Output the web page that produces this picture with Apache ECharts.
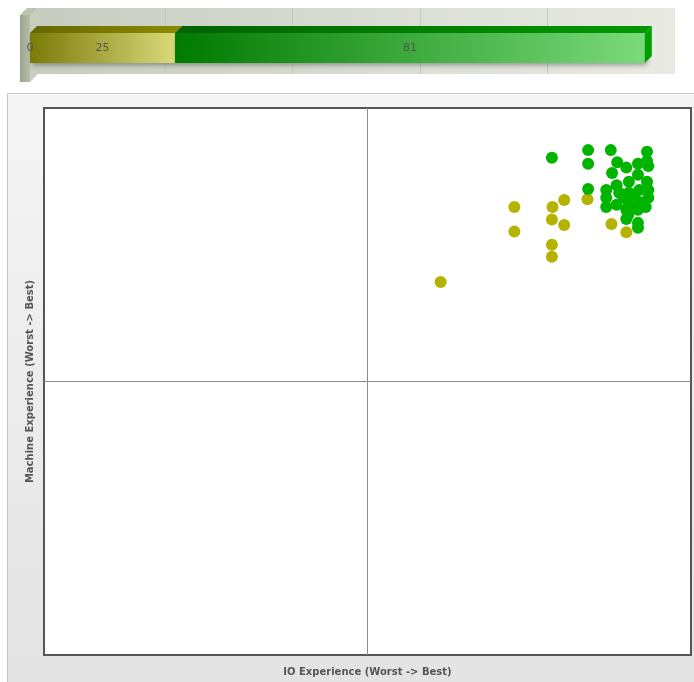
<!DOCTYPE html>
<html>
<head>
<meta charset="utf-8">
<script src="https://cdn.jsdelivr.net/npm/echarts@6/dist/echarts.min.js"></script>
<style>
html,body{margin:0;padding:0;background:#fff;}
#c{width:694px;height:682px;}
</style>
</head>
<body>
<div id="c"></div>
<script>
// ---- data ----
const barSegmentValues = [25, 81];
const barSegmentNames = ['Yellow', 'Green'];
const barGridTicks = [22, 44, 66, 88];
const barAxisMax = 110;

const yellowX = [61.3, 72.7, 72.7, 78.6, 78.5, 78.5, 78.5, 80.4, 80.4, 84.0, 87.7, 90.0];
const yellowY = [68.2, 81.9, 77.4, 81.9, 79.6, 75.0, 72.8, 83.2, 78.6, 83.3, 78.8, 77.3];

const greenX = [78.5, 84.1, 87.6, 84.1, 84.1, 93.2, 88.6, 90.0, 91.8, 93.2, 93.4, 87.8, 91.8, 90.4, 93.2, 86.9, 88.5, 86.9, 86.9, 88.9, 90.4, 92.0, 93.4, 93.4, 93.0, 92.0, 90.4, 90.0, 90.3, 91.8, 89.6, 91.2, 91.8, 91.8, 88.5, 90.0];
const greenY = [90.9, 92.3, 92.3, 89.8, 85.2, 92.0, 90.1, 89.1, 89.8, 90.3, 89.4, 88.1, 87.8, 86.5, 86.5, 85.0, 85.9, 83.6, 81.9, 84.5, 84.5, 85.0, 85.0, 83.6, 81.9, 82.8, 82.3, 81.4, 80.5, 81.4, 83.6, 84.1, 79.0, 78.1, 82.3, 79.7];

const xAxisName = 'IO Experience (Worst -> Best)';
const yAxisName = 'Machine Experience (Worst -> Best)';
const midValue = 50;

// ---- build ----
const D = 7; // 3D depth
const segData = [];
let acc = 0;
barSegmentValues.forEach((v, i) => { segData.push([acc, acc + v, v, i]); acc += v; });

const segStyles = [
  { front: ['#7a7a08', '#d9d97a'], top: ['#666600', '#8c8c00'], side: '#a0a020' },
  { front: ['#007a00', '#7ada7a'], top: ['#006200', '#009a00'], side: '#00a000' }
];

function lg(c0, c1) {
  return new echarts.graphic.LinearGradient(0, 0, 1, 0, [{ offset: 0, color: c0 }, { offset: 1, color: c1 }]);
}

const chart = echarts.init(document.getElementById('c'), null, { renderer: 'canvas' });

const option = {
  animation: false,
  graphic: [
    {
      type: 'rect', z: -10, silent: true,
      shape: { x: 7.5, y: 93.5, width: 700, height: 600 },
      style: {
        fill: new echarts.graphic.LinearGradient(0, 0, 0, 1, [{ offset: 0, color: '#f5f5f5' }, { offset: 1, color: '#e3e3e3' }]),
        stroke: '#c4c4c4', lineWidth: 1
      }
    }
  ],
  grid: [
    { left: 30, top: 15, width: barAxisMax * 5.8, height: 66, show: false },
    { left: 44, top: 108, width: 647, height: 548, show: true, backgroundColor: '#ffffff', borderColor: '#555555', borderWidth: 2, z: 1 }
  ],
  xAxis: [
    { gridIndex: 0, type: 'value', min: 0, max: barAxisMax, interval: 22, show: false },
    {
      gridIndex: 1, type: 'value', min: 0, max: 100, interval: 50,
      axisLine: { show: false }, axisTick: { show: false }, axisLabel: { show: false }, splitLine: { show: false },
      name: xAxisName, nameLocation: 'middle', nameGap: 12,
      nameTextStyle: { fontFamily: 'DejaVu Sans', fontWeight: 'bold', fontSize: 10, color: '#555555' }
    }
  ],
  yAxis: [
    { gridIndex: 0, type: 'category', data: [''], show: false },
    {
      gridIndex: 1, type: 'value', min: 0, max: 100, interval: 50,
      axisLine: { show: false }, axisTick: { show: false }, axisLabel: { show: false }, splitLine: { show: false },
      name: yAxisName, nameLocation: 'middle', nameGap: 9,
      nameTextStyle: { fontFamily: 'DejaVu Sans', fontWeight: 'bold', fontSize: 10, color: '#555555' }
    }
  ],
  series: [
    // back panel
    {
      type: 'custom', xAxisIndex: 0, yAxisIndex: 0, z: 1, silent: true,
      data: [[0, barAxisMax]],
      renderItem: function (params, api) {
        const a = api.coord([api.value(0), 0]);
        const b = api.coord([api.value(1), 0]);
        const h = api.size([0, 1])[1];
        return {
          type: 'rect',
          shape: { x: a[0] - 3, y: a[1] - h / 2 - D, width: b[0] - a[0] + D + 3, height: h },
          style: { fill: lg('#c6ccc0', '#e9ebe3') }
        };
      }
    },
    // grid lines on back wall
    {
      type: 'custom', xAxisIndex: 0, yAxisIndex: 0, z: 2, silent: true,
      data: barGridTicks.map(v => [v]),
      renderItem: function (params, api) {
        const a = api.coord([api.value(0), 0]);
        const h = api.size([0, 1])[1];
        const x = Math.round(a[0] + D) + 0.5;
        return {
          type: 'line',
          shape: { x1: x, y1: a[1] - h / 2 - D, x2: x, y2: a[1] + h / 2 - D },
          style: { stroke: '#bfc9b8', lineWidth: 1 }
        };
      }
    },
    // left wall
    {
      type: 'custom', xAxisIndex: 0, yAxisIndex: 0, z: 3, silent: true,
      data: [[0]],
      renderItem: function (params, api) {
        const a = api.coord([api.value(0), 0]);
        const h = api.size([0, 1])[1];
        const x0 = a[0] - 10, x1 = a[0];
        const y0 = a[1] - h / 2, y1 = a[1] + h / 2 + 1;
        return {
          type: 'group',
          children: [
            { type: 'rect', shape: { x: x0, y: y0, width: 10, height: y1 - y0 }, style: { fill: lg('#9aa48c', '#b7bfa9') } },
            { type: 'polygon', shape: { points: [[x1, y0], [x1 + D, y0 - D], [x1 + D, y1 - D], [x1, y1]] }, style: { fill: '#c9cfbd' } },
            { type: 'polygon', shape: { points: [[x0, y0], [x0 + D, y0 - D], [x1 + D, y0 - D], [x1, y0]] }, style: { fill: '#bcc4ae' } }
          ]
        };
      }
    },
    // 3D bar segments
    {
      type: 'custom', xAxisIndex: 0, yAxisIndex: 0, z: 4, silent: true,
      data: segData,
      renderItem: function (params, api) {
        const a = api.coord([api.value(0), 0]);
        const b = api.coord([api.value(1), 0]);
        const idx = api.value(3);
        const st = segStyles[idx];
        const x0 = a[0], x1 = b[0];
        const y0 = a[1] - 15, y1 = a[1] + 15;
        const children = [
          { type: 'rect', shape: { x: x0, y: y0, width: x1 - x0, height: 30 },
            style: { fill: lg(st.front[0], st.front[1]), shadowBlur: 5, shadowColor: 'rgba(0,0,0,0.35)', shadowOffsetX: 2, shadowOffsetY: 2 } },
          { type: 'polygon', shape: { points: [[x0, y0], [x0 + D, y0 - D], [x1 + D, y0 - D], [x1, y0]] },
            style: { fill: lg(st.top[0], st.top[1]) } },
          { type: 'text', style: { x: (x0 + x1) / 2, y: a[1], text: String(api.value(2)), textAlign: 'center', textVerticalAlign: 'middle',
            fill: '#555555', font: '11px "DejaVu Sans"' } }
        ];
        if (idx === segData.length - 1) {
          children.push({ type: 'polygon', shape: { points: [[x1, y0], [x1 + D, y0 - D], [x1 + D, y1 - D], [x1, y1]] },
            style: { fill: st.side } });
        }
        if (idx === 0) {
          children.push({ type: 'text', style: { x: x0, y: a[1], text: '0', textAlign: 'center', textVerticalAlign: 'middle',
            fill: '#555555', font: '11px "DejaVu Sans"' } });
        }
        return { type: 'group', children: children };
      }
    },
    // quadrant lines
    {
      type: 'line', xAxisIndex: 1, yAxisIndex: 1, data: [], z: 2, silent: true,
      markLine: {
        symbol: 'none', silent: true, label: { show: false },
        lineStyle: { color: '#8c8c8c', width: 1, type: 'solid' },
        data: [{ xAxis: midValue }, { yAxis: midValue }]
      }
    },
    {
      name: 'Yellow', type: 'scatter', xAxisIndex: 1, yAxisIndex: 1, z: 3,
      symbolSize: 12,
      itemStyle: { color: '#b4b400', opacity: 1 },
      data: yellowX.map((x, i) => [x, yellowY[i]])
    },
    {
      name: 'Green', type: 'scatter', xAxisIndex: 1, yAxisIndex: 1, z: 4,
      symbolSize: 12,
      itemStyle: { color: '#00b400', opacity: 1 },
      data: greenX.map((x, i) => [x, greenY[i]])
    }
  ]
};
chart.setOption(option);
</script>
</body>
</html>
